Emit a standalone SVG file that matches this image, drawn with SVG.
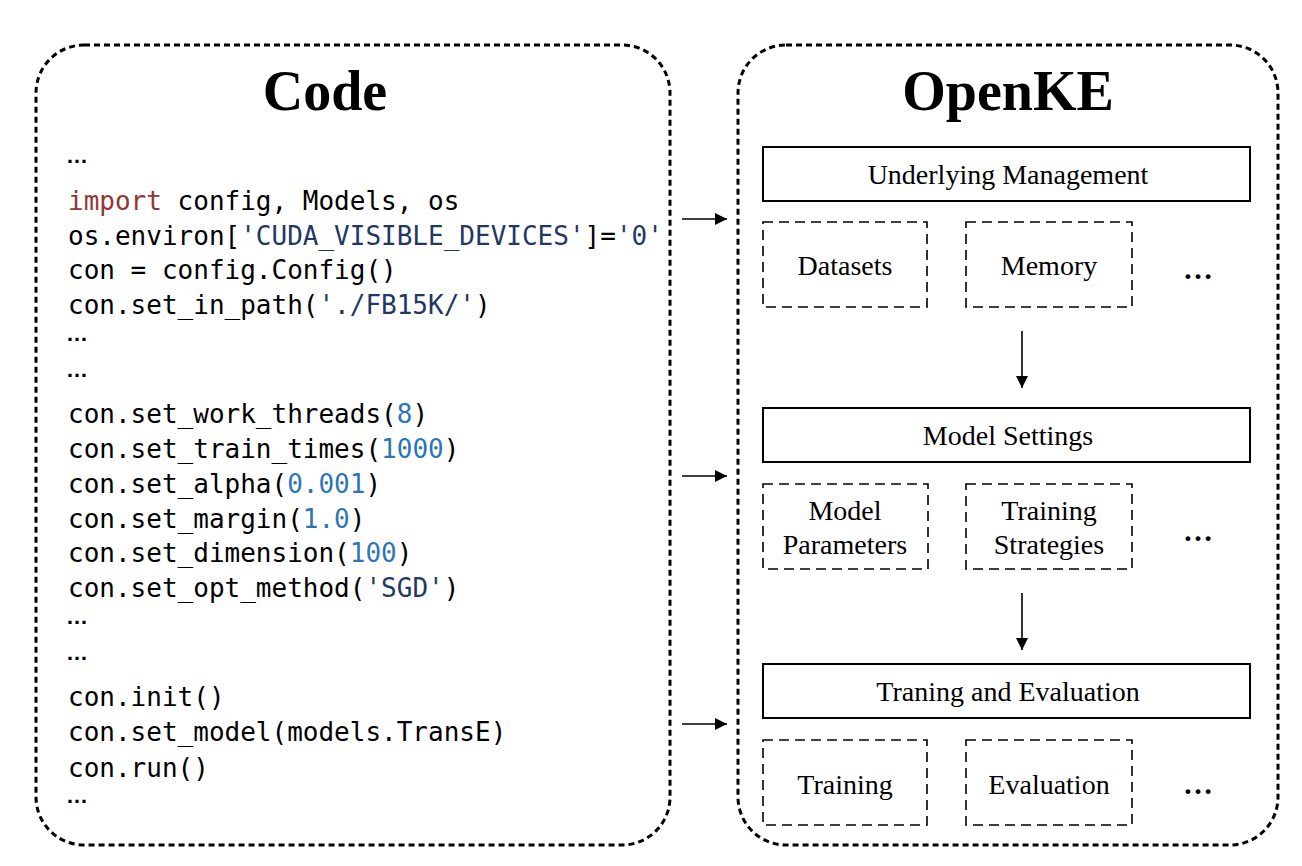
<svg xmlns="http://www.w3.org/2000/svg" width="1302" height="866" viewBox="0 0 1302 866">
<defs>
<style>
.panel{fill:none;stroke:#000;stroke-width:3;stroke-dasharray:6 4}
.title{font-family:"Liberation Serif","Times New Roman",serif;font-weight:bold;font-size:56px;text-anchor:middle}
.code{font-family:"DejaVu Sans Mono","Liberation Mono",monospace;font-size:26px;fill:#000}
.ell{font-family:"Liberation Sans",Arial,sans-serif;font-size:22px;font-weight:bold}
.kw{fill:#943634}
.str{fill:#1F3864}
.num{fill:#2E75B6}
.solid{fill:#fff;stroke:#000;stroke-width:2}
.dash{fill:#fff;stroke:#000;stroke-width:1.6;stroke-dasharray:10 6}
.lbl{font-family:"Liberation Serif","Times New Roman",serif;font-size:28px;text-anchor:middle;fill:#000}
.more{font-family:"Liberation Serif","Times New Roman",serif;font-size:30px;font-weight:bold;text-anchor:middle;fill:#000}
.conn{stroke:#000;stroke-width:1.6;fill:none}
</style>
<marker id="ah" viewBox="0 0 10 10" refX="10" refY="5" markerWidth="17" markerHeight="12" markerUnits="userSpaceOnUse" orient="auto">
<path d="M0,0 L10,5 L0,10 z" fill="#000"/>
</marker>
</defs>
<rect width="1302" height="866" fill="#fff"/>

<g id="code-panel">
<rect class="panel" x="36" y="45" width="634" height="800" rx="48" ry="48"/>
<text class="title" x="325" y="110">Code</text>
<text class="code">
<tspan class="ell" x="66" y="163">…</tspan>
<tspan x="68" y="210"><tspan class="kw">import</tspan> config, Models, os</tspan>
<tspan x="68" y="245">os.environ[<tspan class="str">'CUDA_VISIBLE_DEVICES'</tspan>]=<tspan class="str">'0'</tspan></tspan>
<tspan x="68" y="279">con = config.Config()</tspan>
<tspan x="68" y="314">con.set_in_path(<tspan class="str">'./FB15K/'</tspan>)</tspan>
<tspan class="ell" x="66" y="341">…</tspan>
<tspan class="ell" x="66" y="377">…</tspan>
<tspan x="68" y="423">con.set_work_threads(<tspan class="num">8</tspan>)</tspan>
<tspan x="68" y="458">con.set_train_times(<tspan class="num">1000</tspan>)</tspan>
<tspan x="68" y="493">con.set_alpha(<tspan class="num">0.001</tspan>)</tspan>
<tspan x="68" y="528">con.set_margin(<tspan class="num">1.0</tspan>)</tspan>
<tspan x="68" y="562">con.set_dimension(<tspan class="num">100</tspan>)</tspan>
<tspan x="68" y="597">con.set_opt_method(<tspan class="str">'SGD'</tspan>)</tspan>
<tspan class="ell" x="66" y="624">…</tspan>
<tspan class="ell" x="66" y="660">…</tspan>
<tspan x="68" y="706">con.init()</tspan>
<tspan x="68" y="741">con.set_model(models.TransE)</tspan>
<tspan x="68" y="777">con.run()</tspan>
<tspan class="ell" x="66" y="803">…</tspan>
</text>
</g>

<g id="openke-panel">
<rect class="panel" x="738" y="45" width="540" height="800" rx="48" ry="48"/>
<text class="title" x="1008" y="110">OpenKE</text>
</g>

<g id="underlying-management">
<rect class="solid" x="763" y="147" width="487" height="54"/>
<text class="lbl" x="1008" y="184">Underlying Management</text>
</g>
<g id="datasets">
<rect class="dash" x="763" y="222" width="164" height="85"/>
<text class="lbl" x="845" y="275">Datasets</text>
</g>
<g id="memory">
<rect class="dash" x="966" y="222" width="166" height="85"/>
<text class="lbl" x="1049" y="275">Memory</text>
</g>
<g id="more-1"><text class="more" x="1198" y="279">…</text></g>

<g id="model-settings">
<rect class="solid" x="763" y="408" width="487" height="54"/>
<text class="lbl" x="1008" y="445">Model Settings</text>
</g>
<g id="model-parameters">
<rect class="dash" x="763" y="484" width="165" height="85"/>
<text class="lbl" x="845" y="520">Model</text>
<text class="lbl" x="845" y="554">Parameters</text>
</g>
<g id="training-strategies">
<rect class="dash" x="966" y="484" width="166" height="85"/>
<text class="lbl" x="1049" y="520">Training</text>
<text class="lbl" x="1049" y="554">Strategies</text>
</g>
<g id="more-2"><text class="more" x="1198" y="541">…</text></g>

<g id="training-evaluation">
<rect class="solid" x="763" y="664" width="487" height="54"/>
<text class="lbl" x="1008" y="701">Traning and Evaluation</text>
</g>
<g id="training">
<rect class="dash" x="763" y="740" width="164" height="85"/>
<text class="lbl" x="845" y="794">Training</text>
</g>
<g id="evaluation">
<rect class="dash" x="966" y="740" width="166" height="85"/>
<text class="lbl" x="1049" y="794">Evaluation</text>
</g>
<g id="more-3"><text class="more" x="1198" y="794">…</text></g>

<g id="connectors">
<line class="conn" x1="682" y1="219" x2="727" y2="219" marker-end="url(#ah)"/>
<line class="conn" x1="682" y1="476" x2="727" y2="476" marker-end="url(#ah)"/>
<line class="conn" x1="682" y1="724" x2="727" y2="724" marker-end="url(#ah)"/>
<line class="conn" x1="1022" y1="331" x2="1022" y2="388" marker-end="url(#ah)"/>
<line class="conn" x1="1022" y1="593" x2="1022" y2="650" marker-end="url(#ah)"/>
</g>
</svg>
